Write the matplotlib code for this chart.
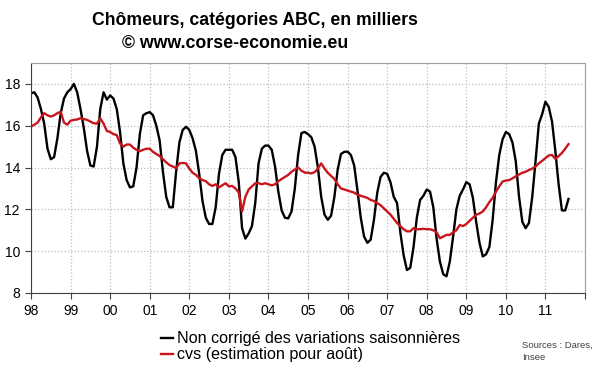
import numpy as np
import matplotlib.pyplot as plt

# Monthly data, Jan 1998 -> Aug 2011 (thousands)
start_year = 1998
years = ['98', '99', '00', '01', '02', '03', '04', '05', '06', '07', '08', '09', '10', '11']

# Non corrigé des variations saisonnières
brut = [
    17.55, 17.6, 17.35, 16.8, 16.1, 14.9, 14.4, 14.5, 15.4, 16.6, 17.3, 17.6,    # 1998
    17.75, 18.0, 17.6, 16.8, 15.9, 14.8, 14.1, 14.05, 15.0, 16.8, 17.6, 17.25,   # 1999
    17.45, 17.3, 16.8, 15.7, 14.2, 13.4, 13.05, 13.1, 14.0, 15.6, 16.5, 16.6,    # 2000
    16.65, 16.5, 16.0, 15.3, 13.8, 12.6, 12.1, 12.1, 13.8, 15.2, 15.8, 15.95,    # 2001
    15.8, 15.4, 14.8, 13.7, 12.4, 11.6, 11.3, 11.3, 12.1, 13.7, 14.6, 14.85,     # 2002
    14.85, 14.85, 14.5, 13.3, 11.1, 10.6, 10.85, 11.2, 12.3, 14.2, 14.9, 15.05,  # 2003
    15.05, 14.85, 14.05, 12.85, 11.95, 11.6, 11.57, 11.9, 13.0, 14.6, 15.65, 15.7,  # 2004
    15.6, 15.45, 15.0, 14.0, 12.6, 11.75, 11.5, 11.7, 12.6, 13.9, 14.65, 14.75,  # 2005
    14.76, 14.6, 14.1, 12.9, 11.6, 10.7, 10.4, 10.55, 11.5, 12.8, 13.55, 13.75,  # 2006
    13.7, 13.3, 12.6, 12.3, 10.9, 9.8, 9.1, 9.2, 10.2, 11.6, 12.45, 12.65,       # 2007
    12.95, 12.85, 12.1, 10.6, 9.5, 8.9, 8.8, 9.5, 10.7, 12.0, 12.65, 12.95,      # 2008
    13.3, 13.2, 12.55, 11.4, 10.4, 9.75, 9.85, 10.2, 11.5, 13.3, 14.6, 15.35,    # 2009
    15.7, 15.6, 15.2, 14.3, 12.6, 11.4, 11.1, 11.35, 12.6, 14.3, 16.1, 16.55,    # 2010
    17.15, 16.9, 16.2, 14.8, 13.2, 11.95, 11.95, 12.5,                          # 2011
]

# cvs (estimation pour août)
cvs = [
    15.96, 16.05, 16.15, 16.4, 16.6, 16.5, 16.44, 16.5, 16.6, 16.67, 16.15, 16.05,
    16.24, 16.28, 16.3, 16.36, 16.32, 16.28, 16.2, 16.12, 16.1, 16.35, 16.1, 15.75,
    15.7, 15.6, 15.55, 15.15, 15.0, 15.1, 15.1, 14.95, 14.85, 14.78, 14.85, 14.9,
    14.9, 14.75, 14.65, 14.55, 14.4, 14.25, 14.12, 14.05, 13.97, 14.2, 14.22, 14.2,
    13.95, 13.75, 13.65, 13.5, 13.4, 13.35, 13.2, 13.12, 13.2, 13.05, 13.15, 13.25,
    13.1, 13.12, 13.0, 12.8, 11.9, 12.6, 12.95, 13.1, 13.25, 13.25, 13.2, 13.25,
    13.2, 13.15, 13.2, 13.35, 13.45, 13.55, 13.65, 13.8, 13.9, 14.0, 13.85, 13.76,
    13.75, 13.72, 13.78, 13.95, 14.2, 13.95, 13.75, 13.6, 13.45, 13.2, 13.0, 12.95,
    12.9, 12.85, 12.8, 12.7, 12.65, 12.6, 12.55, 12.45, 12.4, 12.3, 12.2, 12.05,
    11.9, 11.75, 11.55, 11.35, 11.2, 11.05, 10.95, 10.95, 11.1, 11.05, 11.05, 11.07,
    11.05, 11.05, 11.0, 10.9, 10.62, 10.7, 10.78, 10.78, 10.9, 11.0, 11.25, 11.2,
    11.3, 11.45, 11.6, 11.75, 11.8, 11.9, 12.1, 12.35, 12.55, 12.85, 13.1, 13.33,
    13.38, 13.4, 13.48, 13.58, 13.67, 13.75, 13.8, 13.88, 13.95, 14.05, 14.2, 14.32,
    14.45, 14.58, 14.6, 14.42, 14.55, 14.7, 14.9, 15.12,
]

plt.rcParams['font.family'] = ['Liberation Sans', 'DejaVu Sans']

t = start_year + np.arange(len(brut)) / 12.0

fig = plt.figure(figsize=(6, 3.72), dpi=100)
ax = fig.add_axes([0.0517, 0.2124, 0.9233, 0.6182])

l_brut, = ax.plot(t, brut, color='black', linewidth=1.7,
                  label='Non corrigé des variations saisonnières')
l_cvs, = ax.plot(t, cvs, color='#c8161d', linewidth=1.7,
                 label='cvs (estimation pour août)')

ax.set_xlim(1998, 2012)
ax.set_ylim(8, 19)
ax.set_yticks(np.arange(8, 19, 2))
ax.set_xticks(np.arange(1998, 2013))
ax.set_xticklabels(years + [''])
ax.tick_params(labelsize=10, length=4, direction='out', color='#404040', pad=4)
ax.grid(True, color='#bdbdbd', linestyle=':', linewidth=0.9)

for side in ['top', 'right']:
    ax.spines[side].set_color('#a0a0a0')
for side in ['left', 'bottom']:
    ax.spines[side].set_color('#404040')

fig.text(0.425, 0.946, 'Chômeurs, catégories ABC, en milliers',
         ha='center', va='center', fontsize=12.7, fontweight='bold')
fig.text(0.3925, 0.882, '© www.corse-economie.eu',
         ha='center', va='center', fontsize=12.8, fontweight='bold')

# legend rows are tightly packed in the original, so one legend per row
leg_kw = dict(loc='center left', frameon=False, fontsize=11.6, handlelength=0.78,
              handletextpad=0.25, borderpad=0, borderaxespad=0)
fig.legend(handles=[l_brut], bbox_to_anchor=(0.268, 1 - 339 / 372), **leg_kw)
fig.legend(handles=[l_cvs], bbox_to_anchor=(0.268, 1 - 355 / 372), **leg_kw)

fig.text(0.87, 0.056, 'Sources : Dares,\nInsee', ha='left', va='center',
         fontsize=6.8, color='#404040', linespacing=1.45)

fig.savefig('out.png', dpi=100)
